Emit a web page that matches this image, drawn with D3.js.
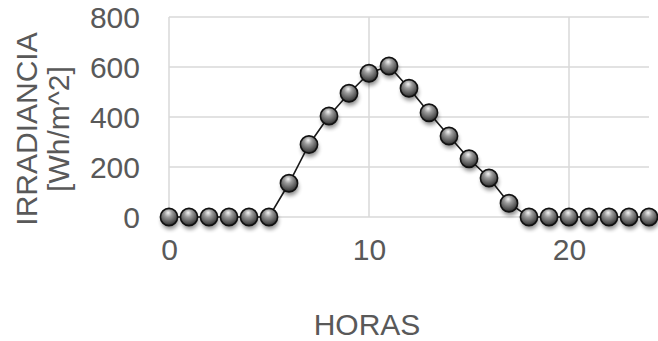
<!DOCTYPE html>
<html><head><meta charset="utf-8">
<script src="https://cdn.jsdelivr.net/npm/d3@7"></script>
<style>body{margin:0;background:#fff}svg{display:block}</style>
</head><body>
<svg id="c" width="658" height="341"></svg>
<script>
const hours = [0,1,2,3,4,5,6,7,8,9,10,11,12,13,14,15,16,17,18,19,20,21,22,23,24];
const irradiance = [0,0,0,0,0,0,135,290,404,495,575,604,515,417,324,233,156,55,0,0,0,0,0,0,0];
const yTicks = [0,200,400,600,800];
const xTicks = [0,10,20];
const yTitleLines = ["IRRADIANCIA","[Wh/m^2]"];
const xTitle = "HORAS";

const svg = d3.select("#c");
const font = "'Liberation Sans', Arial, sans-serif";
const txt = "#595959";
const x = d3.scaleLinear().domain([0,24]).range([169,649]);
const y = d3.scaleLinear().domain([0,800]).range([217,17]);

const defs = svg.append("defs");
const g = defs.append("radialGradient").attr("id","ball").attr("cx","45%").attr("cy","35%").attr("r","65%").attr("fx","45%").attr("fy","25%");
g.append("stop").attr("offset","0%").attr("stop-color","#f4f4f4");
g.append("stop").attr("offset","35%").attr("stop-color","#9a9a9a");
g.append("stop").attr("offset","80%").attr("stop-color","#505050");
g.append("stop").attr("offset","100%").attr("stop-color","#2a2a2a");
const f = defs.append("filter").attr("id","sh").attr("x","-50%").attr("y","-50%").attr("width","200%").attr("height","200%");
f.append("feGaussianBlur").attr("stdDeviation",2.2);

// gridlines
svg.append("g").selectAll("line").data(yTicks).join("line")
  .attr("x1",x(0)).attr("x2",x(24)).attr("y1",d=>y(d)).attr("y2",d=>y(d))
  .attr("stroke","#d9d9d9").attr("stroke-width",1.5);
svg.append("g").selectAll("line").data(xTicks).join("line")
  .attr("x1",d=>x(d)).attr("x2",d=>x(d)).attr("y1",y(0)).attr("y2",y(800))
  .attr("stroke","#d9d9d9").attr("stroke-width",1.5);

// axes labels via d3 axes
const yAx = svg.append("g").attr("transform",`translate(${x(0)-29},0)`)
  .call(d3.axisLeft(y).tickValues(yTicks).tickSize(0).tickPadding(0));
yAx.select(".domain").remove();
yAx.selectAll("text").attr("font-family",font).attr("font-size",30).attr("fill",txt).attr("dy","0.36em");
const xAx = svg.append("g").attr("transform",`translate(0,${y(0)+22})`)
  .call(d3.axisBottom(x).tickValues(xTicks).tickFormat(d3.format("d")).tickSize(0).tickPadding(0));
xAx.select(".domain").remove();
xAx.selectAll("text").attr("font-family",font).attr("font-size",30).attr("fill",txt).attr("dy","0.71em");

// titles
svg.append("text").attr("x",367).attr("y",335).attr("text-anchor","middle")
  .attr("font-family",font).attr("font-size",30).attr("fill",txt).text(xTitle);
yTitleLines.forEach((t,i)=>{
  svg.append("text").attr("transform",`translate(${37+i*32},129) rotate(-90)`)
    .attr("text-anchor","middle").attr("font-family",font).attr("font-size",30).attr("fill",txt).text(t);
});

const data = hours.map((h,i)=>({h,v:irradiance[i]}));
svg.append("path").datum(data)
  .attr("d",d3.line().x(d=>x(d.h)).y(d=>y(d.v)))
  .attr("fill","none").attr("stroke","#1a1a1a").attr("stroke-width",1.6);

svg.append("g").selectAll("circle").data(data).join("circle")
  .attr("cx",d=>x(d.h)+1).attr("cy",d=>y(d.v)+4).attr("r",8.5)
  .attr("fill","#000").attr("opacity",0.45).attr("filter","url(#sh)");
svg.append("g").selectAll("circle").data(data).join("circle")
  .attr("cx",d=>x(d.h)).attr("cy",d=>y(d.v)).attr("r",8.6)
  .attr("fill","url(#ball)").attr("stroke","#111").attr("stroke-width",1.6);
</script>
</body></html>
